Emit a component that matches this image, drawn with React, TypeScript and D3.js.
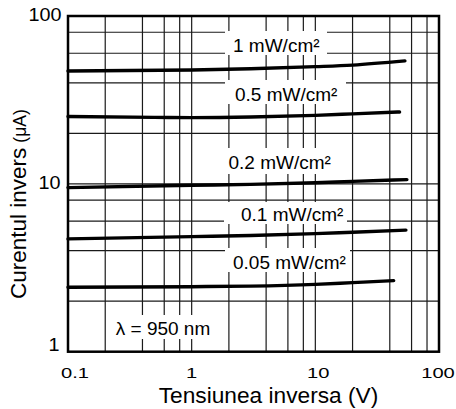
import React from "react";
import * as d3 from "d3";

// ---- Data ----
const xTickValues = [0.1, 1, 10, 100];
const xTickLabels = ["0.1", "1", "10", "100"];
const yTickValues = [1, 10, 100];
const yTickLabels = ["1", "10", "100"];
const xGridValues = [0.2, 0.4, 0.6, 0.8, 1, 2, 4, 6, 8, 10, 20, 40, 60, 80];
const yGridValues = [2, 4, 6, 8, 10, 20, 40, 60, 80];

const seriesLabels = ["1 mW/cm²", "0.5 mW/cm²", "0.2 mW/cm²", "0.1 mW/cm²", "0.05 mW/cm²"];

const volts1 = [0.1, 1, 3, 10, 20, 53];
const current1 = [47.0, 47.7, 48.5, 49.9, 51.0, 54.0];

const volts05 = [0.1, 0.5, 1, 3, 10, 20, 48];
const current05 = [25.2, 24.9, 24.8, 25.0, 25.6, 26.1, 26.8];

const volts02 = [0.1, 1, 3, 10, 20, 55];
const current02 = [9.5, 9.8, 9.93, 10.15, 10.35, 10.6];

const volts01 = [0.1, 1, 3, 10, 20, 54];
const current01 = [4.7, 4.85, 4.92, 5.05, 5.15, 5.3];

const volts005 = [0.1, 1, 3, 10, 20, 43];
const current005 = [2.42, 2.44, 2.46, 2.52, 2.58, 2.65];

const seriesVolts = [volts1, volts05, volts02, volts01, volts005];
const seriesCurrents = [current1, current05, current02, current01, current005];

const xTitle = "Tensiunea inversa (V)";
const yTitleMain = "Curentul invers";
const yTitleUnit = "(μA)";
const noteText = "λ = 950 nm";

// ---- Layout ----
const W = 456;
const H = 409;
const left = 68;
const right = 439;
const top = 16;
const bottom = 351.7;
const FONT = "'Liberation Sans', Arial, Helvetica, sans-serif";

// label boxes (white background behind curve labels) and text anchors
const labelBoxes = [
  { x0: 225, x1: 327, y0: 31, y1: 55, tx: 233, ty: 51.5 },
  { x0: 225, x1: 346, y0: 80, y1: 104, tx: 235, ty: 100.5 },
  { x0: 225, x1: 338, y0: 148, y1: 174, tx: 228.5, ty: 168.5 },
  { x0: 224, x1: 347, y0: 202, y1: 224, tx: 241, ty: 221 },
  { x0: 225, x1: 350, y0: 248, y1: 272, tx: 233, ty: 268.5 },
];
const noteBox = { x0: 110, x1: 222, y0: 315, y1: 339, tx: 163, ty: 335 };
const xTickDx = [7, 0, 3, -1];

export default function App() {
  const x = d3.scaleLog().domain([0.1, 100]).range([left, right]);
  const y = d3.scaleLog().domain([1, 100]).range([bottom, top]);

  const line = d3
    .line<[number, number]>()
    .x((d) => x(d[0]))
    .y((d) => y(d[1]))
    .curve(d3.curveMonotoneX);

  return (
    <svg
      width={W}
      height={H}
      viewBox={`0 0 ${W} ${H}`}
      style={{ position: "absolute", left: 0, top: 0, background: "#fff" }}
      fontFamily={FONT}
    >
      <rect x={0} y={0} width={W} height={H} fill="#fff" />
      {/* grid */}
      <g stroke="#1a1a1a" strokeWidth={1.2}>
        {xGridValues.map((v) => (
          <line key={"gx" + v} x1={x(v)} x2={x(v)} y1={top} y2={bottom} />
        ))}
        {yGridValues.map((v) => (
          <line key={"gy" + v} x1={left} x2={right} y1={y(v)} y2={y(v)} />
        ))}
      </g>
      {/* label backgrounds */}
      {labelBoxes.map((b, i) => (
        <rect key={"lb" + i} x={b.x0} y={b.y0} width={b.x1 - b.x0} height={b.y1 - b.y0} fill="#fff" />
      ))}
      <rect x={noteBox.x0} y={noteBox.y0} width={noteBox.x1 - noteBox.x0} height={noteBox.y1 - noteBox.y0} fill="#fff" />
      {/* frame */}
      <rect x={left} y={top} width={right - left} height={bottom - top} fill="none" stroke="#000" strokeWidth={2.5} />
      {/* curves */}
      {seriesVolts.map((vs, i) => {
        const pts = vs.map((v, j) => [v, seriesCurrents[i][j]] as [number, number]);
        return (
          <path
            key={"s" + i}
            d={line(pts) || ""}
            fill="none"
            stroke="#000"
            strokeWidth={3.4}
            strokeLinecap="round"
          />
        );
      })}
      {/* curve labels */}
      {labelBoxes.map((b, i) => (
        <text key={"lt" + i} x={b.tx} y={b.ty} fontSize={19} fill="#000">
          {seriesLabels[i]}
        </text>
      ))}
      <text x={noteBox.tx} y={noteBox.ty} fontSize={19} textAnchor="middle" fill="#000">
        {noteText}
      </text>
      {/* x tick labels */}
      {xTickValues.map((v, i) => (
        <text
          key={"xt" + v}
          transform={`translate(${x(v) + xTickDx[i]},377.5) scale(1.3,1)`}
          fontSize={15.5}
          textAnchor="middle"
          fill="#000"
        >
          {xTickLabels[i]}
        </text>
      ))}
      {/* y tick labels */}
      {yTickValues.map((v, i) => (
        <text
          key={"yt" + v}
          transform={`translate(${v === 1 ? 59.5 : v === 10 ? 60.5 : 61.5},${v === 1 ? y(v) - 0.5 : y(v) + 5}) scale(1.1,1)`}
          fontSize={18}
          textAnchor="end"
          fill="#000"
        >
          {yTickLabels[i]}
        </text>
      ))}
      {/* axis titles */}
      <text x={268.5} y={403} fontSize={22.7} textAnchor="middle" fill="#000">
        {xTitle}
      </text>
      <text transform="translate(25.5,299) rotate(-90)" fontSize={22.5} fill="#000">
        {yTitleMain}
        <tspan dx={5} fontSize={17.5}>
          {yTitleUnit}
        </tspan>
      </text>
    </svg>
  );
}
